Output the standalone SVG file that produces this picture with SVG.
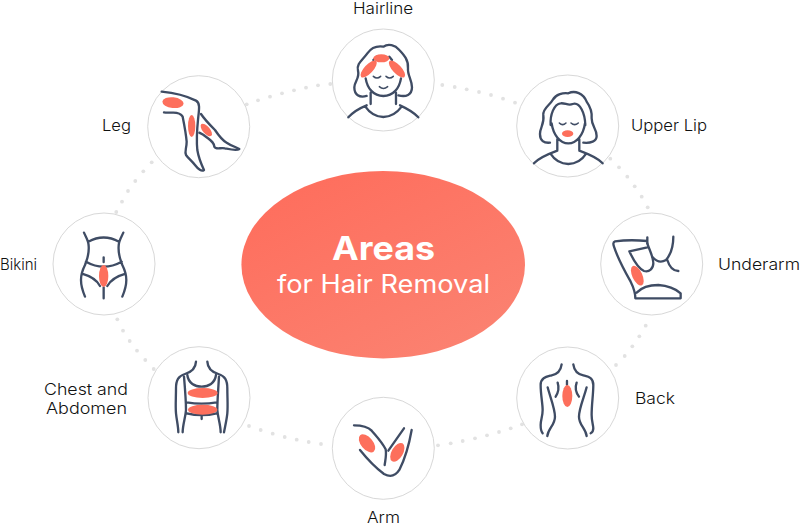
<svg xmlns="http://www.w3.org/2000/svg" width="800" height="524" viewBox="0 0 800 524">
<style>
.ring{fill:#fff;stroke:#d8d8d8;stroke-width:1}
.ln{fill:none;stroke:#3f4c64;stroke-width:7;stroke-linecap:round;stroke-linejoin:round}
.hot{fill:#fd6f5c}
.lb{font-family:Inter,"Liberation Sans",sans-serif;font-size:16px;font-weight:300;fill:#111}
#dots circle{fill:#e2e2e2;r:1.9px}
.ti{font-family:Inter,"Liberation Sans",sans-serif;fill:#fff;text-anchor:middle}
</style>
<defs><linearGradient id="g" x1="0.2" y1="0.1" x2="0.85" y2="0.95"><stop offset="0" stop-color="#fe6f5e"/><stop offset="1" stop-color="#fb8271"/></linearGradient></defs>
<g id="dots">
<circle cx="442.3" cy="85"/><circle cx="454.7" cy="87"/><circle cx="466.7" cy="89.3"/><circle cx="479" cy="92"/><circle cx="491" cy="95"/><circle cx="503" cy="98.7"/><circle cx="515" cy="102.7"/>
<circle cx="610.3" cy="158.7"/><circle cx="619" cy="167.3"/><circle cx="627.3" cy="176.7"/><circle cx="634.7" cy="186.3"/><circle cx="641.7" cy="196.7"/><circle cx="647.7" cy="207.3"/>
<circle cx="645.7" cy="325.7"/><circle cx="639.3" cy="336.3"/><circle cx="632.3" cy="346.3"/><circle cx="624.7" cy="356"/><circle cx="616" cy="365"/>
<circle cx="522" cy="424.3"/><circle cx="510.7" cy="428.3"/><circle cx="499" cy="432"/><circle cx="487" cy="435.3"/><circle cx="475" cy="438.3"/><circle cx="462.7" cy="441"/><circle cx="450.7" cy="443.3"/><circle cx="438" cy="445.3"/>
<circle cx="249" cy="426"/><circle cx="260.7" cy="430"/><circle cx="272.7" cy="433.7"/><circle cx="284.7" cy="437"/><circle cx="296.7" cy="439.7"/><circle cx="308.7" cy="442"/><circle cx="321" cy="444"/>
<circle cx="153.7" cy="369"/><circle cx="145.3" cy="360"/><circle cx="137" cy="350.7"/><circle cx="129.7" cy="341"/><circle cx="123" cy="330.7"/><circle cx="117.3" cy="319.3"/>
<circle cx="116.3" cy="212"/><circle cx="122" cy="201.7"/><circle cx="128" cy="191"/><circle cx="135.3" cy="181"/><circle cx="143.3" cy="171.3"/><circle cx="151.7" cy="162.3"/>
<circle cx="246.7" cy="104.3"/><circle cx="258" cy="100.3"/><circle cx="270" cy="96.7"/><circle cx="282" cy="93.3"/><circle cx="294" cy="90.3"/><circle cx="306" cy="87.7"/><circle cx="318" cy="85.3"/><circle cx="330.3" cy="84"/>
</g>
<g id="center">
<ellipse cx="383.2" cy="264.7" rx="141.8" ry="93.7" fill="url(#g)"/>
<text class="ti" x="383.5" y="260" font-size="33" font-weight="700" textLength="103" lengthAdjust="spacingAndGlyphs">Areas</text>
<text class="ti" x="383.5" y="293" font-size="25" font-weight="400" textLength="213" lengthAdjust="spacingAndGlyphs">for Hair Removal</text>
</g>
<g id="hairline">
<circle class="ring" cx="383.3" cy="80" r="51"/>
<g transform="translate(320 0) scale(.3333)">
<path class="ln" d="M140 288C118 294 103 285 103 262C103 245 120 235 114 212C108 192 128 180 142 160C155 142 170 137 190 140C205 130 225 135 238 150C252 165 266 180 264 205C262 225 276 240 276 262C276 285 258 292 235 286"/>
<path class="ln" d="M137 235C142 265 160 288 190 288C220 288 238 265 243 235M152 278V312M228 278V312M85 352C100 335 125 322 140 316M136 320C150 340 165 351 190 351C215 351 230 340 245 320M240 316C260 325 280 335 295 352"/>
<path class="ln" d="M160 180L170 170M208 170L216 180"/>
<path class="ln" style="stroke-width:4.5" d="M160 229Q171 239 182 229M198 229Q209 239 220 229M178 260Q190 271 203 260"/>
<ellipse class="hot" cx="184" cy="175" rx="24" ry="12"/>
<ellipse class="hot" cx="146" cy="207" rx="33" ry="13" transform="rotate(-47 146 207)"/>
<ellipse class="hot" cx="231" cy="207" rx="33" ry="13" transform="rotate(47 231 207)"/>
</g>
</g>
<g id="upper-lip">
<circle class="ring" cx="567.7" cy="126" r="51"/>
<g transform="translate(320 0) scale(.3333)">
<path class="ln" d="M690 428C672 430 660 422 660 402C660 382 674 372 670 345C668 325 690 315 698 300C708 282 730 278 745 280C765 270 790 280 800 305C812 322 817 335 815 355C815 380 830 385 830 408C830 425 812 430 790 428"/>
<path class="ln" d="M692 375C690 345 702 312 722 310C735 308 745 318 758 312C780 305 795 340 796 375"/>
<path class="ln" d="M695 370C700 405 720 430 745 430C770 430 790 405 795 370M712 418V450M778 418V450M642 490C655 475 685 462 712 452M692 462C705 482 725 492 745 492C765 492 785 482 798 462M778 452C805 462 835 475 848 490"/>
<path class="ln" style="stroke-width:4.5" d="M718 369Q728 379 738 369M753 369Q764 379 775 369"/>
<ellipse class="hot" cx="743" cy="401" rx="17" ry="10"/>
</g>
</g>
<g id="underarm">
<circle class="ring" cx="651.7" cy="264" r="51"/>
<g transform="translate(590 210) scale(.3333)">
<path class="ln" d="M172 82V100M172 93C140 90 105 90 75 94C68 96 70 104 72 110C85 150 105 185 122 215C132 235 136 250 136 265H272V250C255 235 235 227 205 225C175 225 155 232 140 248"/>
<path class="ln" d="M172 112L118 124C130 150 145 175 162 183C178 188 190 175 190 160C190 140 178 120 172 100"/>
<path class="ln" d="M250 80C250 110 245 130 228 150C215 158 200 155 188 142M232 150C238 170 248 183 265 183"/>
<ellipse class="hot" cx="142" cy="197" rx="15" ry="32" transform="rotate(-25 142 197)"/>
</g>
</g>
<g id="back">
<circle class="ring" cx="567.7" cy="398" r="51"/>
<g transform="translate(320 340) scale(.3333)">
<path class="ln" d="M725 73C722 95 710 103 695 106C680 110 662 112 662 135C662 165 668 190 668 210C668 230 662 240 662 255C662 268 664 275 668 280"/>
<path class="ln" d="M760 73C763 95 775 103 790 106C805 110 820 112 820 135C820 165 815 190 815 225C815 245 820 255 820 265C820 272 816 278 812 280"/>
<path class="ln" d="M683 142C690 170 705 205 705 230C705 255 685 265 682 288M800 142C793 170 777 205 777 230C777 255 797 265 800 288M713 128Q720 150 707 170M770 128Q762 150 777 170M741 123V134"/>
<ellipse class="hot" cx="742" cy="168" rx="15" ry="33"/>
</g>
</g>
<g id="arm">
<circle class="ring" cx="383.3" cy="448.3" r="51"/>
<g transform="translate(320 340) scale(.3333)">
<path class="ln" d="M102 256C125 256 142 258 155 272C170 290 185 305 197 328C200 345 196 360 194 375M252 265L205 332M275 270C268 310 258 350 238 390C225 410 210 412 192 402C165 382 140 355 120 330"/>
<ellipse class="hot" cx="141" cy="310" rx="18" ry="32" transform="rotate(-40 141 310)"/>
<ellipse class="hot" cx="232" cy="337" rx="17" ry="31" transform="rotate(30 232 337)"/>
</g>
</g>
<g id="chest-and-abdomen">
<circle class="ring" cx="199" cy="397.7" r="51"/>
<g transform="translate(150 345) scale(.3333)">
<path class="ln" d="M138 50C137 72 122 82 105 87C85 93 78 105 78 130C78 160 76 180 78 205C80 225 85 245 85 262M172 50C173 72 188 82 205 87C225 93 232 105 232 130C232 160 234 180 232 205C230 225 225 245 222 262"/>
<path class="ln" d="M102 95C105 130 108 165 108 195C106 220 98 240 98 262M207 95C205 130 202 165 202 195C204 220 212 240 212 262M112 90C115 115 135 125 155 125C175 125 195 115 198 90M110 172Q155 180 200 172M110 205Q155 216 200 205M155 212V222"/>
<ellipse class="hot" cx="158" cy="144" rx="45" ry="15"/>
<ellipse class="hot" cx="158" cy="194" rx="44" ry="15"/>
</g>
</g>
<g id="bikini">
<circle class="ring" cx="104" cy="264" r="51"/>
<g transform="translate(0 200) scale(.3333)">
<path class="ln" d="M252 98C258 112 266 122 266 138C268 165 262 175 255 195C245 215 243 225 243 240C243 260 250 278 255 290M370 98C364 112 356 122 356 138C354 165 360 175 367 195C377 215 379 225 379 240C379 260 372 278 367 290M265 125Q311 100 357 125M258 185Q311 215 365 185M248 222Q285 232 300 258M375 222Q338 232 322 258M311 262V295M311 172V186"/>
<ellipse class="hot" cx="311" cy="228" rx="14" ry="33"/>
</g>
</g>
<g id="leg">
<circle class="ring" cx="198.7" cy="126.7" r="51"/>
<g transform="translate(90 70) scale(.3333)">
<path class="ln" d="M215 65C250 68 290 78 318 92C330 98 328 115 325 140C322 170 318 200 322 240C326 265 335 285 342 300C335 306 325 298 315 285C305 272 295 265 288 255C283 245 290 235 290 215C288 190 282 160 278 140C272 130 265 128 250 128C240 128 230 128 222 127"/>
<path class="ln" d="M333 132C345 150 360 165 375 180C385 195 395 210 410 218C425 228 440 232 448 237C440 243 420 238 405 235C392 232 378 240 373 230C372 215 360 210 345 198C338 192 332 190 328 188"/>
<ellipse class="hot" cx="249" cy="98" rx="32" ry="16" transform="rotate(6 249 98)"/>
<ellipse class="hot" cx="305" cy="168" rx="11" ry="33"/>
<ellipse class="hot" cx="349" cy="180" rx="11" ry="23" transform="rotate(-40 349 180)"/>
</g>
</g>
<g id="labels">
<text class="lb" x="353" y="13.5" textLength="60" lengthAdjust="spacingAndGlyphs">Hairline</text>
<text class="lb" x="631" y="130.5" textLength="76" lengthAdjust="spacingAndGlyphs">Upper Lip</text>
<text class="lb" x="102" y="131" textLength="29" lengthAdjust="spacingAndGlyphs">Leg</text>
<text class="lb" x="0" y="270" textLength="37" lengthAdjust="spacingAndGlyphs">Bikini</text>
<text class="lb" x="44" y="395" textLength="84" lengthAdjust="spacingAndGlyphs">Chest and</text>
<text class="lb" x="46" y="414" textLength="81" lengthAdjust="spacingAndGlyphs">Abdomen</text>
<text class="lb" x="718" y="270" textLength="82" lengthAdjust="spacingAndGlyphs">Underarm</text>
<text class="lb" x="635" y="404" textLength="40" lengthAdjust="spacingAndGlyphs">Back</text>
<text class="lb" x="367" y="523" textLength="33" lengthAdjust="spacingAndGlyphs">Arm</text>
</g>
</svg>
